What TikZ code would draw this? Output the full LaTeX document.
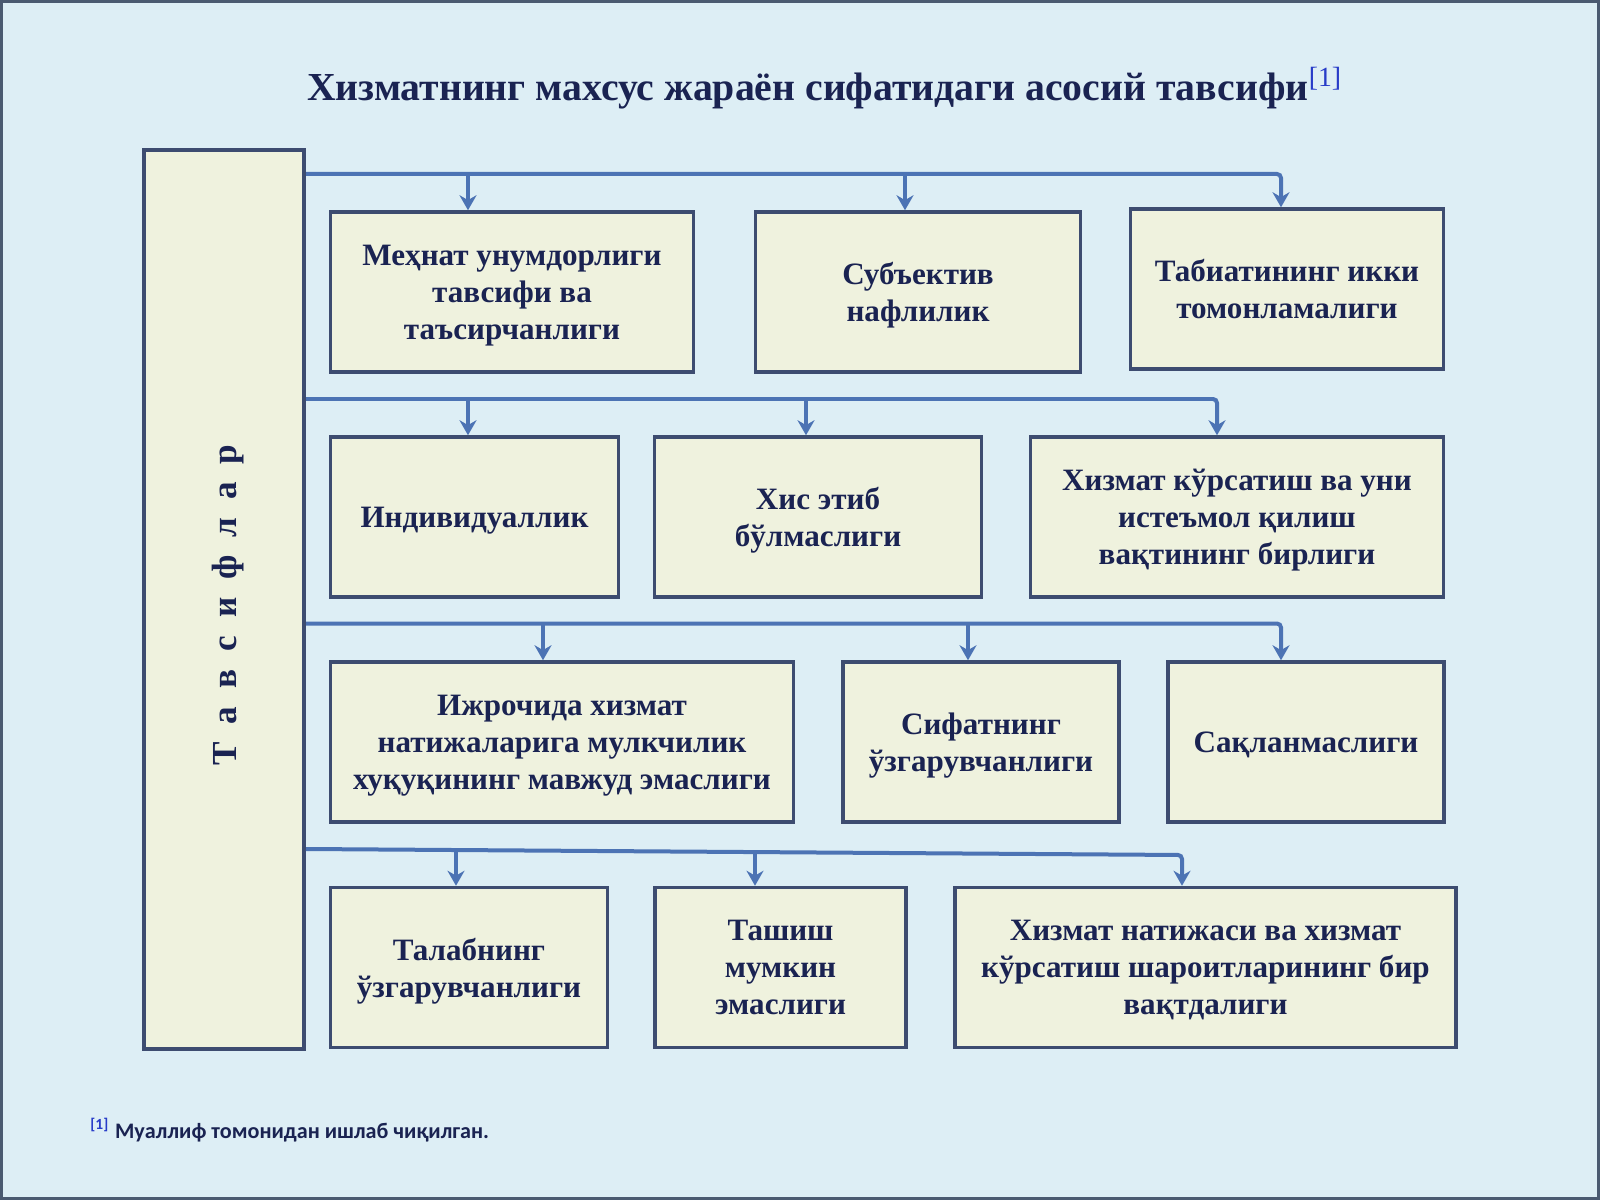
\documentclass[tikz,border=0pt]{standalone}
\usepackage{fontspec}
\setmainfont{Liberation Serif}
\newfontfamily\notefont{Carlito}
\usetikzlibrary{positioning, arrows.meta}
\definecolor{bgblue}{RGB}{221,238,245}
\definecolor{frameline}{RGB}{74,90,112}
\definecolor{cardfill}{RGB}{239,242,222}
\definecolor{cardline}{RGB}{61,76,112}
\definecolor{railblue}{RGB}{76,115,180}
\definecolor{ink}{RGB}{26,35,82}
\definecolor{refblue}{RGB}{40,60,200}
\tikzset{
  card/.style={draw=cardline, line width=0.35mm, fill=cardfill, text=ink, align=center, inner sep=0pt,
    minimum height=16mm, text depth=-1.05mm, font=\bfseries\fontsize{8.85}{10.5}\selectfont},
  rail/.style={draw=railblue, line width=0.4mm, rounded corners=0.4mm},
  drop/.style={rail, -{Stealth[length=1.5mm, width=1.7mm]}},
}

\begin{document}
\begin{tikzpicture}[x=0.1mm, y=-0.1mm]
  \useasboundingbox (0,0) rectangle (1600,1200);
  \fill[bgblue] (0,0) rectangle (1600,1200);
  \draw[frameline, line width=0.3mm] (1.5,1.5) rectangle (1598.5,1198.5);
  % heading
  \node[text=ink, font=\bfseries\fontsize{11.3}{13}\selectfont] (title) at (825,88)
    {Хизматнинг махсус жараён сифатидаги асосий тавсифи\textsuperscript{\color{refblue}\mdseries[1]}};
  % left bar
  \node[card, line width=0.4mm, text depth=0pt, minimum width=16mm, minimum height=89.9mm] (bar) at (224,599.5) {};
  \node[rotate=90, text=ink, font=\bfseries\fontsize{10}{12}\selectfont] (bartext) at (228,605)
    {\spaceskip=1.8mm\relax Т а в с и ф л а р};
  % row 1
  \node[card, minimum width=36.3mm] (r1a) at (512,292) {Меҳнат унумдорлиги\\тавсифи ва\\таъсирчанлиги};
  \node[card, minimum width=32.5mm] (r1b) at (918,292) {Субъектив\\нафлилик};
  \node[card, minimum width=31.3mm] (r1c) at (1287,289) {Табиатининг икки\\томонламалиги};
  % row 2
  \node[card, minimum width=28.8mm] (r2a) at (474.5,517) {Индивидуаллик};
  \node[card, minimum width=32.7mm] (r2b) at (818,517) {Хис этиб\\бўлмаслиги};
  \node[card, minimum width=41.3mm] (r2c) at (1237,517) {Хизмат кўрсатиш ва уни\\истеъмол қилиш\\вақтининг бирлиги};
  % row 3
  \node[card, minimum width=46.3mm] (r3a) at (562,742) {Ижрочида хизмат\\натижаларига мулкчилик\\хуқуқининг мавжуд эмаслиги};
  \node[card, minimum width=27.6mm] (r3b) at (981,742) {Сифатнинг\\ўзгарувчанлиги};
  \node[card, minimum width=27.6mm] (r3c) at (1306,742) {Сақланмаслиги};
  % row 4
  \node[card, minimum width=27.7mm] (r4a) at (469,967.5) {Талабнинг\\ўзгарувчанлиги};
  \node[card, minimum width=25.1mm] (r4b) at (780.5,967.5) {Ташиш\\мумкин\\эмаслиги};
  \node[card, minimum width=50.1mm] (r4c) at (1205.5,967.5) {Хизмат натижаси ва хизмат\\кўрсатиш шароитларининг бир\\вақтдалиги};
  % taps on the rails
  \coordinate (t1a) at (468,174);  \coordinate (t1b) at (905,174);  \coordinate (t1c) at (1281,174);
  \coordinate (t2a) at (468,399);  \coordinate (t2b) at (806,399);  \coordinate (t2c) at (1217,399);
  \coordinate (t3a) at (543,623.5); \coordinate (t3b) at (968,623.5); \coordinate (t3c) at (1281,623.5);
  \coordinate (t4s) at (bar.east |- 0,849);
  \coordinate (t4a) at (456,850);  \coordinate (t4b) at (755,852);  \coordinate (t4c) at (1182,855);
  % rails and arrows
  \draw[drop] (bar.east |- t1a) -| (t1c |- r1c.north);
  \draw[drop] (t1a) -- (t1a |- r1a.north);
  \draw[drop] (t1b) -- (t1b |- r1b.north);
  \draw[drop] (bar.east |- t2a) -| (t2c |- r2c.north);
  \draw[drop] (t2a) -- (t2a |- r2a.north);
  \draw[drop] (t2b) -- (t2b |- r2b.north);
  \draw[drop] (bar.east |- t3a) -| (t3c |- r3c.north);
  \draw[drop] (t3a) -- (t3a |- r3a.north);
  \draw[drop] (t3b) -- (t3b |- r3b.north);
  \draw[drop] (t4s) -- (t4c) -- (t4c |- r4c.north);
  \draw[drop] (t4a) -- (t4a |- r4a.north);
  \draw[drop] (t4b) -- (t4b |- r4b.north);
  % footnote
  \node[anchor=west, text=ink, font=\notefont\bfseries\fontsize{6.3}{8}\selectfont] (note) at (78,1130)
    {\textsuperscript{\color{refblue}[1]} Муаллиф томонидан ишлаб чиқилган.};
\end{tikzpicture}
\end{document}
